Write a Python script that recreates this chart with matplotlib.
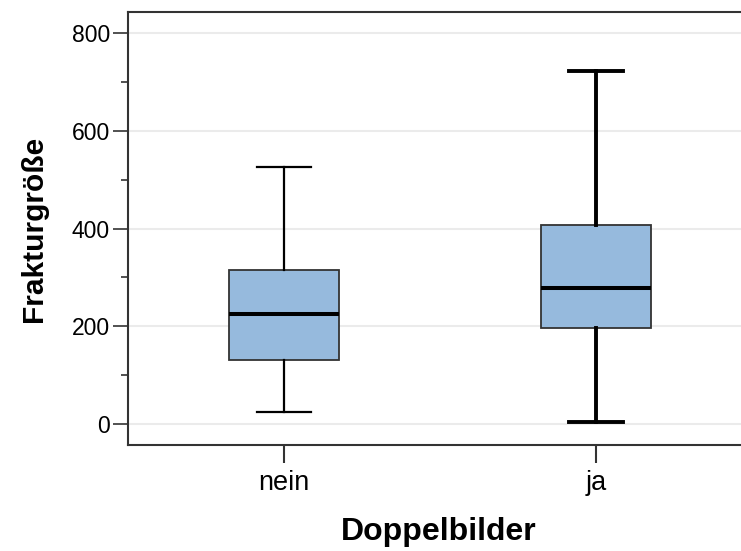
import matplotlib
matplotlib.use("Agg")
import matplotlib.pyplot as plt
from matplotlib.ticker import MultipleLocator

plt.rcParams['font.family'] = ['Liberation Sans', 'DejaVu Sans']

categories = ["nein", "ja"]
whisker_low = [26, 4]
q1 = [131, 196]
median = [225, 278]
q3 = [315, 408]
whisker_high = [525, 722]
whisker_lw = [1.6, 2.8]

fig = plt.figure(figsize=(7.41, 5.51), dpi=100)
ax = fig.add_axes([128/741, 106/551, 624/741, 433/551])

stats = []
for i, c in enumerate(categories):
    stats.append(dict(label=c, whislo=whisker_low[i], q1=q1[i], med=median[i],
                      q3=q3[i], whishi=whisker_high[i], fliers=[]))

for i, s in enumerate(stats):
    ax.bxp([s], positions=[i], widths=0.35, patch_artist=True, showfliers=False,
           boxprops=dict(facecolor="#96badd", edgecolor="#333333", linewidth=1.3),
           medianprops=dict(color="black", linewidth=2.9, solid_capstyle='butt'),
           whiskerprops=dict(color="black", linewidth=whisker_lw[i]),
           capprops=dict(color="black", linewidth=whisker_lw[i]),
           capwidths=0.175, zorder=3)

ax.set_xlim(-0.5, 1.5)
ax.set_ylim(-42, 842)
ax.set_xticks(range(len(categories)))
ax.set_xticklabels(categories, fontsize=19.5)
ax.yaxis.set_major_locator(MultipleLocator(200))
ax.yaxis.set_minor_locator(MultipleLocator(100))
ax.tick_params(axis='y', which='major', length=11, width=1.2, labelsize=16.5, pad=2, color="#333333")
ax.tick_params(axis='y', which='minor', length=5, width=1.2, color="#333333")
ax.tick_params(axis='x', which='major', length=13, width=1.5, pad=5, color="#333333")
ax.tick_params(axis='x', which='minor', bottom=False)
ax.grid(axis='y', which='major', color="#ebebeb", linewidth=1.5, zorder=0)
ax.set_axisbelow(True)
for sp in ax.spines.values():
    sp.set_color("#333333")
    sp.set_linewidth(1.5)

ax.set_ylabel("Frakturgröße", fontsize=21.5, fontweight='bold')
ax.yaxis.set_label_coords(-94/624, 0.5)
ax.set_xlabel("Doppelbilder", fontsize=23, fontweight='bold')
ax.xaxis.set_label_coords((439 - 128)/624, -(532 - 445)/433)
ax.xaxis.label.set_va('center')
ax.yaxis.label.set_va('center')

fig.savefig("out.png", dpi=100)
